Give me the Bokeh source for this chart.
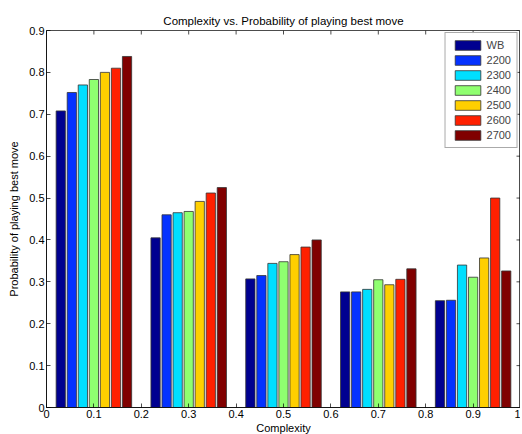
import math
from bokeh.plotting import figure
from bokeh.models import ColumnDataSource, Legend, LegendItem, FixedTicker, Range1d
from bokeh.transform import dodge
from bokeh.embed import file_html
from bokeh.resources import INLINE

# Data
complexity = [0.1, 0.3, 0.5, 0.7, 0.9]
series_names = ["WB", "2200", "2300", "2400", "2500", "2600", "2700"]
wb = [0.708, 0.405, 0.307, 0.276, 0.255]
r2200 = [0.752, 0.460, 0.315, 0.276, 0.256]
r2300 = [0.770, 0.465, 0.344, 0.282, 0.340]
r2400 = [0.783, 0.468, 0.348, 0.305, 0.311]
r2500 = [0.800, 0.492, 0.365, 0.293, 0.357]
r2600 = [0.810, 0.512, 0.383, 0.306, 0.500]
r2700 = [0.838, 0.525, 0.400, 0.331, 0.326]
colors = ["#000090", "#0432FF", "#00DFFF", "#8FFF70", "#FFCF00", "#FF2000", "#800000"]
x_ticks = [0, 0.1, 0.2, 0.3, 0.4, 0.5, 0.6, 0.7, 0.8, 0.9, 1.0]
x_tick_labels = ["0", "0.1", "0.2", "0.3", "0.4", "0.5", "0.6", "0.7", "0.8", "0.9", "1"]
y_ticks = [0, 0.1, 0.2, 0.3, 0.4, 0.5, 0.6, 0.7, 0.8, 0.9]
y_tick_labels = ["0", "0.1", "0.2", "0.3", "0.4", "0.5", "0.6", "0.7", "0.8", "0.9"]

values = [wb, r2200, r2300, r2400, r2500, r2600, r2700]
data = {"x": complexity}
for name, v in zip(series_names, values):
    data["s" + name] = v
src = ColumnDataSource(data)

FONT = "Liberation Sans"

p = figure(frame_width=474, frame_height=377, output_backend="svg", toolbar_location=None,
           x_range=Range1d(0, 1), y_range=Range1d(0, 0.9),
           min_border_left=46, min_border_right=0, min_border_top=30, min_border_bottom=10,
           title="Complexity vs. Probability of playing best move")
p.title.align = "center"
p.title.text_font = FONT
p.title.text_font_size = "11.5px"
p.title.text_font_style = "normal"
p.title.text_color = "#000000"
p.title.offset = 0
p.title.standoff = 8

p.xgrid.visible = False
p.ygrid.visible = False
p.outline_line_color = "#000000"
p.outline_line_alpha = 0.7
p.background_fill_color = "white"
p.border_fill_color = "white"

step = 0.0233
items = []
for i, (name, c) in enumerate(zip(series_names, colors)):
    r = p.vbar(x=dodge("x", (i - 3) * step, range=p.x_range), top="s" + name, width=0.0195,
               source=src, fill_color=c, line_color="#333333", line_alpha=0.8, line_width=1)
    items.append(LegendItem(label=name, renderers=[r]))

legend = Legend(items=items, location="top_right")
legend.label_text_font = FONT
legend.label_text_font_size = "11px"
legend.glyph_width = 32
legend.glyph_height = 12
legend.spacing = 3
legend.padding = 6
legend.margin = 2
legend.label_standoff = 3
legend.label_height = 12
legend.border_line_color = "#555555"
p.add_layout(legend, "center")

def style_axis(ax, ticks, labels):
    ax.ticker = FixedTicker(ticks=ticks)
    ax.major_label_overrides = {t: l for t, l in zip(ticks, labels)}
    ax.major_tick_in = 4
    ax.major_tick_out = 0
    ax.minor_tick_in = 0
    ax.minor_tick_out = 0
    ax.axis_line_color = "#000000"
    ax.axis_line_alpha = 0.7
    ax.major_tick_line_color = "#000000"
    ax.major_tick_line_alpha = 0.7
    ax.major_label_text_font = FONT
    ax.major_label_text_font_size = "11px"
    ax.major_label_text_color = "#000000"
    ax.major_label_standoff = 2
    ax.axis_label_text_font = FONT
    ax.axis_label_text_font_size = "11px"
    ax.axis_label_text_font_style = "normal"
    ax.axis_label_text_color = "#000000"
    ax.axis_label_standoff = 1

style_axis(p.xaxis[0], x_ticks, x_tick_labels)
style_axis(p.yaxis[0], y_ticks, y_tick_labels)
p.xaxis.axis_label = "Complexity"
p.yaxis.axis_label = "Probability of playing best move"
p.yaxis.axis_label_standoff = 6

# box ticks on top and right edges (inward, 4 screen px)
p.ray(x=x_ticks, y=[0.9] * len(x_ticks), length=4, length_units="screen",
      angle=-math.pi / 2, line_color="#000000", line_alpha=0.7)
p.ray(x=[1.0] * len(y_ticks), y=y_ticks, length=4, length_units="screen",
      angle=math.pi, line_color="#000000", line_alpha=0.7)

open("out.html", "w").write(file_html(p, INLINE))
